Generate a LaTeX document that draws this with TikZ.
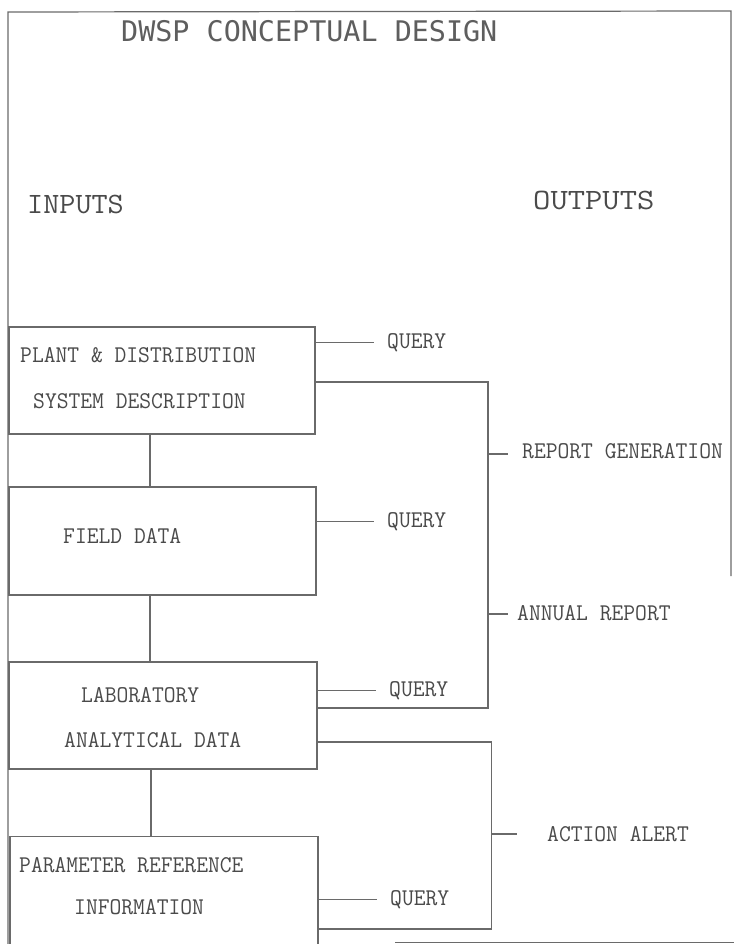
\documentclass[tikz,border=0pt]{standalone}
\usepackage{fontspec}
\usepackage{graphicx}
\newfontfamily\titlefont{DejaVu Sans Mono}
\newcommand\cxb[1]{\scalebox{0.955}[1]{#1}}
\newcommand\cxi[1]{\scalebox{1.06}[1]{#1}}
\newcommand\cxo[1]{\scalebox{1.14}[1]{#1}}
\definecolor{ln}{HTML}{6A6A6A}
\definecolor{txt}{HTML}{4A4A4A}
\definecolor{ttltxt}{HTML}{5E5E5E}
\tikzset{
  box/.style={draw=ln, line width=1.2pt, inner sep=0pt},
  lbl/.style={inner sep=0pt, anchor=base west, text=txt, font=\ttfamily\fontsize{24}{28}\selectfont},
  head/.style={inner sep=0pt, anchor=base west, text=txt, font=\ttfamily\fontsize{29.5}{33}\selectfont},
  ttl/.style={inner sep=0pt, anchor=base west, text=ttltxt, font=\titlefont\fontsize{28.4}{32}\selectfont},
  wire/.style={draw=ln, line width=1.2pt}
}
\begin{document}
\begin{tikzpicture}[x=1pt,y=-1pt]
\useasboundingbox (0,0) rectangle (734,944);
\clip (0,0) rectangle (734,944);
\fill[white] (0,0) rectangle (734,944);
% frame
\draw[wire] (8,944) -- (8,12) -- (731,11) -- (731,576);
\draw[wire] (395,942.5) -- (734,942.5);
% headings
\node[ttl] (title) at (121,42) {DWSP CONCEPTUAL DESIGN};
\node[head] (inputs) at (27,213) {\cxi{INPUTS}};
\node[head] (outputs) at (533,209) {\cxo{OUTPUTS}};
% boxes
\node[box, minimum width=306pt, minimum height=107pt] (b1) at (162,380.5) {};
\node[box, minimum width=307pt, minimum height=108pt] (b2) at (162.5,541) {};
\node[box, minimum width=308pt, minimum height=107pt] (b3) at (163,715.5) {};
\node[box, minimum width=308pt, minimum height=115pt] (b4) at (164,894) {};
% box texts
\node[lbl] (t1a) at (20,362) {\cxb{PLANT \& DISTRIBUTION}};
\node[lbl] (t1b) at (33,408) {\cxb{SYSTEM DESCRIPTION}};
\node[lbl] (t2) at (63,543) {\cxb{FIELD DATA}};
\node[lbl] (t3a) at (81,702) {\cxb{LABORATORY}};
\node[lbl] (t3b) at (64,747) {\cxb{ANALYTICAL DATA}};
\node[lbl] (t4a) at (19,872) {\cxb{PARAMETER REFERENCE}};
\node[lbl] (t4b) at (74,914) {\cxb{INFORMATION}};
% box links
\draw[wire] ([xshift=-12pt]b1.south) -- ([xshift=-12pt]b1.south |- b2.north);
\draw[wire] ([xshift=-12.5pt]b2.south) -- ([xshift=-12.5pt]b2.south |- b3.north);
\draw[wire] ([xshift=-12pt]b3.south) -- ([xshift=-12pt]b3.south |- b4.north);
% queries
\node[lbl] (q1) at (387,348) {\cxb{QUERY}};
\node[lbl] (q2) at (387,527) {\cxb{QUERY}};
\node[lbl] (q3) at (389,696) {\cxb{QUERY}};
\node[lbl] (q4) at (390,905) {\cxb{QUERY}};
\draw[wire] (b1.east |- q1.west) -- ([xshift=-13pt]q1.west);
\draw[wire] (b2.east |- q2.west) -- ([xshift=-13pt]q2.west);
\draw[wire] (b3.east |- q3.west) -- ([xshift=-13pt]q3.west);
\draw[wire] (b4.east |- q4.west) -- ([xshift=-13pt]q4.west);
% outputs
\node[lbl] (rg) at (522,458) {\cxb{REPORT GENERATION}};
\node[lbl] (ar) at (517,620) {\cxb{ANNUAL REPORT}};
\node[lbl] (aa) at (547,841) {\cxb{ACTION ALERT}};
\coordinate (rtop) at (488,382);
\coordinate (rbot) at (488,708);
\coordinate (atop) at (491.5,742);
\coordinate (abot) at (491.5,929);
\coordinate (rgt) at (488,454);
\coordinate (art) at (488,614);
\coordinate (aat) at (491.5,834);
\draw[wire] (b1.east |- rtop) -- (rtop) -- (rbot) -- (b3.east |- rbot);
\draw[wire] (b3.east |- atop) -- (atop) -- (abot) -- (b4.east |- abot);
\draw[wire] (rgt) -- ([xshift=-14pt]rg.west |- rgt);
\draw[wire] (art) -- ([xshift=-9pt]ar.west |- art);
\draw[wire] (aat) -- ([xshift=-30pt]aa.west |- aat);
\end{tikzpicture}
\end{document}
